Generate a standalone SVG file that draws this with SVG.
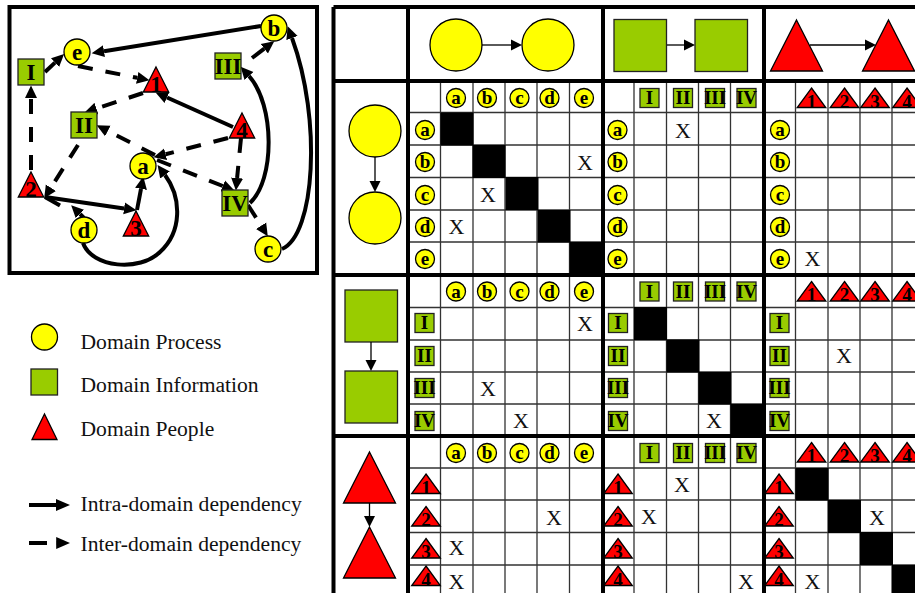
<svg xmlns="http://www.w3.org/2000/svg" width="915" height="593" viewBox="0 0 915 593">
<style>
text{font-family:"Liberation Serif","Times New Roman",serif;fill:#000;text-anchor:middle}
.c{fill:#ff0;stroke:#000;stroke-width:1.3}
.s{fill:#9c0;stroke:#222;stroke-width:1.3}
.t{fill:#f00;stroke:#000;stroke-width:1.3;stroke-linejoin:miter}
.n{font-weight:bold;font-size:23px}
.m{font-weight:bold;font-size:19px}
.x{font-size:22px;fill:#111}
.l{font-size:21.6px;text-anchor:start;fill:#111}
.thin{fill:none;stroke:#333;stroke-width:1.3}
.thick{fill:none;stroke:#000;stroke-width:4}
.a{fill:none;stroke:#000;stroke-width:4;marker-end:url(#h)}
.d{fill:none;stroke:#000;stroke-width:4;stroke-dasharray:15 13;marker-end:url(#h)}
.b{fill:none;stroke:#000;stroke-width:1.3;marker-end:url(#h2)}
</style>
<defs>
<marker id="h" markerUnits="userSpaceOnUse" markerWidth="13" markerHeight="13" refX="0" refY="6.5" orient="auto"><path d="M0,0.5L12.5,6.5L0,12.5z" fill="#000"/></marker>
<marker id="h2" markerUnits="userSpaceOnUse" markerWidth="11" markerHeight="12" refX="0" refY="6" orient="auto"><path d="M0,0.5L11,6L0,11.5z" fill="#000"/></marker>
<marker id="h3" markerUnits="userSpaceOnUse" markerWidth="14" markerHeight="12" refX="0" refY="6" orient="auto"><path d="M0,0L14,6L0,12z" fill="#000"/></marker>
<rect id="q" class="s" x="-9.5" y="-9.5" width="19" height="19"/>
<polygon id="u" class="t" points="0,-19.5 14.3,0 -14.3,0"/>
<polygon id="big" class="t" points="0,-51 26,0 -26,0"/>
<rect id="bq" class="s" x="0" y="0" width="52.5" height="52"/>
<polygon id="gt" class="t" points="0,-25 12.7,0 -12.7,0"/>
<rect id="gs" class="s" x="-13" y="-13" width="26" height="26"/>
</defs>

<g id="graph-frame"><rect class="thick" x="9.5" y="7" width="307.5" height="266"/></g>

<g id="connectors">
<path class="a" d="M261,26L104,51.2"/>
<path class="a" d="M45,72L55,62.6"/>
<path class="d" d="M31,170L31,98"/>
<path class="d" d="M78,66L137.2,77.8"/>
<path class="d" d="M143,93L96.4,108.5"/>
<path class="a" d="M233,127L167,97.5"/>
<path class="a" d="M252,58L264.3,48.7"/>
<path class="a" d="M250,203C275,180 275,105 249,76"/>
<path class="a" d="M282,249C315,235 322,120 292,38"/>
<path class="d" d="M78,145L50.9,187.7"/>
<path class="d" d="M228,138L165.6,154.2"/>
<path class="d" d="M241,138L237.1,178"/>
<path class="d" d="M155,155L107.8,131"/>
<path class="d" d="M157,160L222.8,186"/>
<path class="d" d="M248,205L261.1,225.7"/>
<path class="a" d="M45,197L124.1,208.4"/>
<path class="a" d="M137,210L141,188.8"/>
<path class="a" d="M45,197L60,205.5M84,218L80,214"/>
<path class="a" d="M83,243C92,268 140,272 160,252C182,232 182,198 165,175"/>
</g>

<g id="node-b"><circle class="c" cx="274" cy="28" r="13"/><text class="n" x="274" y="35.5">b</text></g>
<g id="node-e"><circle class="c" cx="77" cy="52" r="13"/><text class="n" x="77" y="59.5">e</text></g>
<g id="node-a"><circle class="c" cx="143" cy="166" r="13"/><text class="n" x="143" y="173.5">a</text></g>
<g id="node-d"><circle class="c" cx="84" cy="230" r="13"/><text class="n" x="84" y="237.5">d</text></g>
<g id="node-c"><circle class="c" cx="268" cy="249" r="13"/><text class="n" x="268" y="256.5">c</text></g>
<g id="node-I"><use href="#gs" x="31" y="72"/><text class="n" x="31" y="80">I</text></g>
<g id="node-II"><use href="#gs" x="84" y="125"/><text class="n" x="84" y="133">II</text></g>
<g id="node-III"><use href="#gs" x="228" y="66"/><text class="n" x="228" y="74">III</text></g>
<g id="node-IV"><use href="#gs" x="235" y="203"/><text class="n" x="235" y="211">IV</text></g>
<g id="node-1"><use href="#gt" x="156" y="92"/><text class="n" x="156" y="92">1</text></g>
<g id="node-2"><use href="#gt" x="31" y="197"/><text class="n" x="31" y="197">2</text></g>
<g id="node-3"><use href="#gt" x="136" y="236"/><text class="n" x="136" y="236">3</text></g>
<g id="node-4"><use href="#gt" x="242" y="138"/><text class="n" x="242" y="138">4</text></g>

<g id="legend">
<circle class="c" cx="44.5" cy="337" r="13"/><text class="l" x="80.5" y="349">Domain Process</text>
<rect class="s" x="31" y="369" width="26.5" height="26"/><text class="l" x="80.5" y="392">Domain Information</text>
<polygon class="t" points="44.5,414 57,439.5 32,439.5"/><text class="l" x="80.5" y="436">Domain People</text>
<path d="M29,505H56" fill="none" stroke="#000" stroke-width="4" marker-end="url(#h3)"/><text class="l" x="80.5" y="511">Intra-domain dependency</text>
<path d="M29,543H47M56,543H56.2" fill="none" stroke="#000" stroke-width="4" marker-end="url(#h3)"/><text class="l" x="80.5" y="551">Inter-domain dependency</text>
</g>

<g id="matrix-grid">
<path class="thin" d="M440.5,81V593M473,81V593M505,81V593M537,81V593M569.5,81V593M634,81V593M666.5,81V593M698.5,81V593M730.5,81V593M795.5,81V593M828,81V593M860,81V593M892,81V593"/>
<path class="thin" d="M408,112.5H915M408,145H915M408,177.5H915M408,210H915M408,242H915M408,307.5H915M408,340H915M408,372H915M408,404H915M408,468H915M408,500H915M408,532.5H915M408,565H915"/>
<g fill="#000">
<rect x="440.5" y="112.5" width="33" height="33"/><rect x="472.5" y="145" width="33" height="33"/><rect x="505.5" y="177" width="33" height="33"/><rect x="537.5" y="210" width="33" height="32.5"/><rect x="569.5" y="242" width="33.5" height="33"/>
<rect x="634" y="307" width="33" height="33"/><rect x="666.5" y="339.5" width="33" height="33"/><rect x="698.5" y="372" width="33" height="32.5"/><rect x="730.5" y="404" width="33" height="32"/>
<rect x="795.5" y="468" width="33" height="32.5"/><rect x="828" y="500" width="33" height="33"/><rect x="860" y="532" width="33" height="33"/><rect x="892" y="565" width="23" height="28"/>
</g>
<path class="thick" d="M333.5,7V593M408,7V593M603,7V593M764,7V593M333.5,7H915M333.5,81H915M333.5,275H915M333.5,436H915"/>
</g>

<g id="big-icons">
<circle class="c" cx="456" cy="45" r="26"/><circle class="c" cx="548" cy="45" r="26"/><path class="b" d="M482,45H511"/>
<use href="#bq" x="614" y="19.5"/><use href="#bq" x="695" y="19.5"/><path class="b" d="M667,45H684"/>
<use href="#big" x="796.5" y="71"/><use href="#big" x="888.5" y="71"/><path class="b" d="M810,45H865"/>
<circle class="c" cx="375" cy="131" r="26"/><circle class="c" cx="375" cy="218" r="26"/><path class="b" d="M375,157V181"/>
<use href="#bq" x="345" y="290"/><use href="#bq" x="345" y="371"/><path class="b" d="M371,342V360"/>
<use href="#big" x="369.5" y="503"/><use href="#big" x="369.5" y="578"/><path class="b" d="M369.5,503V516"/>
</g>

<g id="col-headers-1">
<circle class="c" cx="456" cy="98" r="9.5"/><text class="m" x="456" y="104">a</text>
<circle class="c" cx="487" cy="98" r="9.5"/><text class="m" x="487" y="104">b</text>
<circle class="c" cx="519.5" cy="98" r="9.5"/><text class="m" x="519.5" y="104">c</text>
<circle class="c" cx="549.5" cy="98" r="9.5"/><text class="m" x="549.5" y="104">d</text>
<circle class="c" cx="584" cy="98" r="9.5"/><text class="m" x="584" y="104">e</text>
<use href="#q" x="649.5" y="98"/><text class="m" x="649.5" y="104">I</text>
<use href="#q" x="683" y="98"/><text class="m" x="683" y="104">II</text>
<use href="#q" x="715" y="98"/><text class="m" x="715" y="104">III</text>
<use href="#q" x="746.5" y="98"/><text class="m" x="746.5" y="104">IV</text>
<use href="#u" x="811.5" y="107.5"/><text class="m" x="811.5" y="107.5">1</text>
<use href="#u" x="844.5" y="107.5"/><text class="m" x="844.5" y="107.5">2</text>
<use href="#u" x="875" y="107.5"/><text class="m" x="875" y="107.5">3</text>
<use href="#u" x="907" y="107.5"/><text class="m" x="907" y="107.5">4</text>
</g>
<g id="col-headers-2">
<circle class="c" cx="456" cy="291.5" r="9.5"/><text class="m" x="456" y="297.5">a</text>
<circle class="c" cx="487" cy="291.5" r="9.5"/><text class="m" x="487" y="297.5">b</text>
<circle class="c" cx="519.5" cy="291.5" r="9.5"/><text class="m" x="519.5" y="297.5">c</text>
<circle class="c" cx="549.5" cy="291.5" r="9.5"/><text class="m" x="549.5" y="297.5">d</text>
<circle class="c" cx="584" cy="291.5" r="9.5"/><text class="m" x="584" y="297.5">e</text>
<use href="#q" x="649.5" y="291.5"/><text class="m" x="649.5" y="297.5">I</text>
<use href="#q" x="683" y="291.5"/><text class="m" x="683" y="297.5">II</text>
<use href="#q" x="715" y="291.5"/><text class="m" x="715" y="297.5">III</text>
<use href="#q" x="746.5" y="291.5"/><text class="m" x="746.5" y="297.5">IV</text>
<use href="#u" x="811.5" y="301"/><text class="m" x="811.5" y="301">1</text>
<use href="#u" x="844.5" y="301"/><text class="m" x="844.5" y="301">2</text>
<use href="#u" x="875" y="301"/><text class="m" x="875" y="301">3</text>
<use href="#u" x="907" y="301"/><text class="m" x="907" y="301">4</text>
</g>
<g id="col-headers-3">
<circle class="c" cx="456" cy="453" r="9.5"/><text class="m" x="456" y="459">a</text>
<circle class="c" cx="487" cy="453" r="9.5"/><text class="m" x="487" y="459">b</text>
<circle class="c" cx="519.5" cy="453" r="9.5"/><text class="m" x="519.5" y="459">c</text>
<circle class="c" cx="549.5" cy="453" r="9.5"/><text class="m" x="549.5" y="459">d</text>
<circle class="c" cx="584" cy="453" r="9.5"/><text class="m" x="584" y="459">e</text>
<use href="#q" x="649.5" y="453"/><text class="m" x="649.5" y="459">I</text>
<use href="#q" x="683" y="453"/><text class="m" x="683" y="459">II</text>
<use href="#q" x="715" y="453"/><text class="m" x="715" y="459">III</text>
<use href="#q" x="746.5" y="453"/><text class="m" x="746.5" y="459">IV</text>
<use href="#u" x="811.5" y="462"/><text class="m" x="811.5" y="462">1</text>
<use href="#u" x="844.5" y="462"/><text class="m" x="844.5" y="462">2</text>
<use href="#u" x="875" y="462"/><text class="m" x="875" y="462">3</text>
<use href="#u" x="907" y="462"/><text class="m" x="907" y="462">4</text>
</g>

<g id="row-headers-1">
<circle class="c" cx="425" cy="130" r="9.5"/><text class="m" x="425" y="136">a</text>
<circle class="c" cx="425" cy="162" r="9.5"/><text class="m" x="425" y="168">b</text>
<circle class="c" cx="425" cy="195" r="9.5"/><text class="m" x="425" y="201">c</text>
<circle class="c" cx="425" cy="227" r="9.5"/><text class="m" x="425" y="233">d</text>
<circle class="c" cx="425" cy="259" r="9.5"/><text class="m" x="425" y="265">e</text>
<circle class="c" cx="617.5" cy="130" r="9.5"/><text class="m" x="617.5" y="136">a</text>
<circle class="c" cx="617.5" cy="162" r="9.5"/><text class="m" x="617.5" y="168">b</text>
<circle class="c" cx="617.5" cy="195" r="9.5"/><text class="m" x="617.5" y="201">c</text>
<circle class="c" cx="617.5" cy="227" r="9.5"/><text class="m" x="617.5" y="233">d</text>
<circle class="c" cx="617.5" cy="259" r="9.5"/><text class="m" x="617.5" y="265">e</text>
<circle class="c" cx="780" cy="130" r="9.5"/><text class="m" x="780" y="136">a</text>
<circle class="c" cx="780" cy="162" r="9.5"/><text class="m" x="780" y="168">b</text>
<circle class="c" cx="780" cy="195" r="9.5"/><text class="m" x="780" y="201">c</text>
<circle class="c" cx="780" cy="227" r="9.5"/><text class="m" x="780" y="233">d</text>
<circle class="c" cx="780" cy="259" r="9.5"/><text class="m" x="780" y="265">e</text>
</g>
<g id="row-headers-2">
<use href="#q" x="424.5" y="323"/><text class="m" x="424.5" y="329">I</text>
<use href="#q" x="424.5" y="356"/><text class="m" x="424.5" y="362">II</text>
<use href="#q" x="424.5" y="388"/><text class="m" x="424.5" y="394">III</text>
<use href="#q" x="424.5" y="421"/><text class="m" x="424.5" y="427">IV</text>
<use href="#q" x="618" y="323"/><text class="m" x="618" y="329">I</text>
<use href="#q" x="618" y="356"/><text class="m" x="618" y="362">II</text>
<use href="#q" x="618" y="388"/><text class="m" x="618" y="394">III</text>
<use href="#q" x="618" y="421"/><text class="m" x="618" y="427">IV</text>
<use href="#q" x="779.5" y="323"/><text class="m" x="779.5" y="329">I</text>
<use href="#q" x="779.5" y="356"/><text class="m" x="779.5" y="362">II</text>
<use href="#q" x="779.5" y="388"/><text class="m" x="779.5" y="394">III</text>
<use href="#q" x="779.5" y="421"/><text class="m" x="779.5" y="427">IV</text>
</g>
<g id="row-headers-3">
<use href="#u" x="426" y="493.5"/><text class="m" x="426" y="493.5">1</text>
<use href="#u" x="426" y="526"/><text class="m" x="426" y="526">2</text>
<use href="#u" x="426" y="558"/><text class="m" x="426" y="558">3</text>
<use href="#u" x="426" y="585.5"/><text class="m" x="426" y="585.5">4</text>
<use href="#u" x="618" y="493.5"/><text class="m" x="618" y="493.5">1</text>
<use href="#u" x="618" y="526"/><text class="m" x="618" y="526">2</text>
<use href="#u" x="618" y="558"/><text class="m" x="618" y="558">3</text>
<use href="#u" x="618" y="585.5"/><text class="m" x="618" y="585.5">4</text>
<use href="#u" x="779" y="493.5"/><text class="m" x="779" y="493.5">1</text>
<use href="#u" x="779" y="526"/><text class="m" x="779" y="526">2</text>
<use href="#u" x="779" y="558"/><text class="m" x="779" y="558">3</text>
<use href="#u" x="779" y="585.5"/><text class="m" x="779" y="585.5">4</text>
</g>

<g id="marks">
<text class="x" x="585" y="170">X</text>
<text class="x" x="488" y="202">X</text>
<text class="x" x="456.5" y="234">X</text>
<text class="x" x="683" y="138">X</text>
<text class="x" x="812.5" y="266">X</text>
<text class="x" x="585" y="331">X</text>
<text class="x" x="488" y="396">X</text>
<text class="x" x="521" y="428">X</text>
<text class="x" x="714" y="428">X</text>
<text class="x" x="844" y="363">X</text>
<text class="x" x="682" y="492">X</text>
<text class="x" x="554" y="525">X</text>
<text class="x" x="649" y="524">X</text>
<text class="x" x="877" y="525">X</text>
<text class="x" x="456.5" y="555">X</text>
<text class="x" x="456.5" y="589">X</text>
<text class="x" x="746" y="589">X</text>
<text class="x" x="812.5" y="589">X</text>
</g>
</svg>
